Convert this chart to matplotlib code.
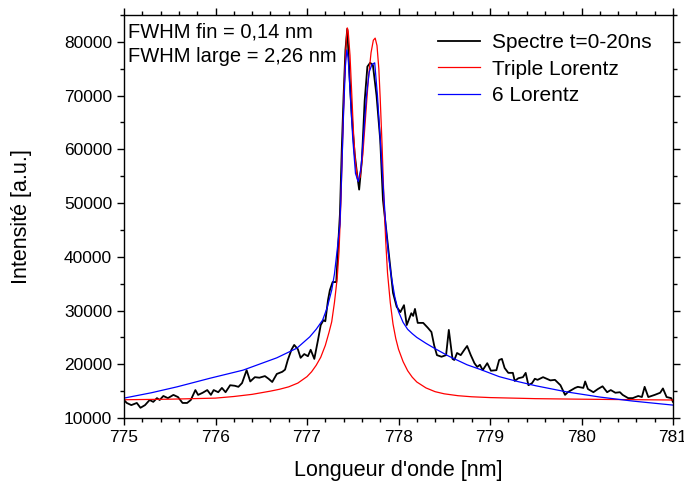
import numpy as np
import matplotlib
matplotlib.use("Agg")
import matplotlib.pyplot as plt
from matplotlib.ticker import MultipleLocator

plt.rcParams['font.family'] = ['Liberation Sans', 'DejaVu Sans']

spec_x = [775.00, 775.03, 775.08, 775.14, 775.18, 775.23, 775.28, 775.32, 775.36, 775.39,
          775.43, 775.48, 775.54, 775.59, 775.64, 775.69, 775.73, 775.78, 775.81, 775.86,
          775.91, 775.95, 775.98, 776.03, 776.07, 776.11, 776.16, 776.21, 776.25, 776.29,
          776.34, 776.38, 776.43, 776.48, 776.54, 776.58, 776.62, 776.67, 776.73, 776.76,
          776.79, 776.83, 776.86, 776.90, 776.93, 776.97, 777.01, 777.04, 777.08, 777.12,
          777.15, 777.18, 777.20, 777.23, 777.25, 777.28, 777.32, 777.34, 777.36, 777.38,
          777.40, 777.42, 777.44, 777.45, 777.47, 777.49, 777.52, 777.55, 777.57, 777.60,
          777.63, 777.66, 777.69, 777.72, 777.76, 777.80, 777.83, 777.87, 777.91, 777.94,
          777.98, 778.02, 778.06, 778.09, 778.14, 778.16, 778.18, 778.21, 778.27, 778.32,
          778.36, 778.39, 778.42, 778.47, 778.52, 778.55, 778.59, 778.61, 778.64, 778.68,
          778.72, 778.75, 778.79, 778.83, 778.86, 778.89, 778.92, 778.97, 779.01, 779.07,
          779.10, 779.13, 779.16, 779.20, 779.25, 779.27, 779.31, 779.36, 779.39, 779.42,
          779.46, 779.49, 779.52, 779.58, 779.66, 779.71, 779.77, 779.82, 779.85, 779.93,
          779.96, 780.02, 780.04, 780.07, 780.13, 780.18, 780.23, 780.28, 780.32, 780.37,
          780.42, 780.45, 780.51, 780.56, 780.62, 780.66, 780.69, 780.73, 780.80, 780.86,
          780.89, 780.93, 780.98, 781.00]
spec_y = [13350, 12800, 12400, 12800, 11900, 12400, 13350, 13000, 13700, 13350,
          14100, 13700, 14300, 13900, 12800, 12800, 13350, 15200, 14300, 14700,
          15200, 14300, 15200, 14800, 15600, 14800, 16100, 16000, 15800, 16500,
          18900, 16800, 17600, 17500, 17800, 17300, 16700, 18200, 18600, 19000,
          20800, 22700, 23600, 22800, 21200, 21900, 21500, 22700, 21000, 24500,
          27300, 28200, 28000, 32000, 33800, 35300, 35300, 42000, 48000, 60000,
          70000, 78500, 82400, 79000, 72000, 66000, 59300, 55000, 52500, 58000,
          69000, 75400, 76100, 75700, 70000, 61800, 50600, 44400, 38100, 33300,
          30700, 29700, 31000, 27300, 29500, 29000, 30300, 27700, 27700, 26800,
          26000, 23500, 21700, 21400, 21700, 26400, 21000, 20800, 22100, 21700,
          22700, 23400, 21700, 20200, 19500, 19900, 18900, 20200, 18800, 18900,
          20800, 21000, 19300, 18400, 18400, 16900, 17400, 17600, 18400, 16100,
          16500, 17300, 17100, 17600, 17000, 17100, 16100, 14300, 14800, 15600,
          15800, 15600, 16800, 15400, 14800, 15400, 15900, 14800, 15200, 14700,
          14800, 14300, 13700, 13700, 14100, 13900, 15800, 13900, 14300, 14700,
          15500, 13900, 13700, 13000]

# triple Lorentz fit
tri_x = [775.0, 775.5, 776.0, 776.2, 776.4, 776.6, 776.7, 776.8, 776.9, 777.0,
         777.05, 777.10, 777.15, 777.20, 777.24, 777.27, 777.30, 777.33, 777.35, 777.37,
         777.39, 777.41, 777.43, 777.44, 777.45, 777.47, 777.49, 777.51, 777.53, 777.555,
         777.58, 777.61, 777.64, 777.67, 777.70, 777.725, 777.745, 777.765, 777.785, 777.80,
         777.82, 777.84, 777.86, 777.88, 777.91, 777.94, 777.97, 778.00, 778.05, 778.10,
         778.15, 778.20, 778.30, 778.40, 778.50, 778.65, 778.80, 779.0, 779.5, 780.0,
         780.5, 781.0]
tri_y = [13400, 13500, 13700, 14000, 14400, 15000, 15350, 15800, 16500, 17700,
         18600, 19800, 21300, 23500, 25900, 27900, 31500, 36000, 41000, 50000,
         62000, 73000, 80500, 82600, 82000, 77500, 70000, 62500, 57500, 54200,
         54800, 59000, 66000, 73000, 78000, 80300, 80700, 79300, 75000, 69500,
         61000, 51000, 43000, 37000, 31500, 27500, 24800, 22800, 20500, 18800,
         17600, 16700, 15600, 14900, 14500, 14150, 13950, 13800, 13600, 13500,
         13420, 13350]

# 6 Lorentz fit
six_x = [775.0, 775.3, 775.58, 775.94, 776.3, 776.67, 776.89, 777.03, 777.10, 777.17,
         777.22, 777.27, 777.30, 777.33, 777.36, 777.38, 777.40, 777.42, 777.435, 777.45,
         777.47, 777.50, 777.53, 777.56, 777.59, 777.62, 777.65, 777.68, 777.71, 777.74,
         777.77, 777.80, 777.83, 777.86, 777.89, 777.92, 777.96, 778.00, 778.05, 778.10,
         778.15, 778.20, 778.30, 778.40, 778.55, 778.75, 778.90, 779.10, 779.30, 779.50,
         779.84, 780.20, 780.56, 781.0]
six_y = [13700, 14700, 15800, 17400, 18900, 21200, 23000, 25100, 26500, 28200,
         30500, 33800, 36800, 41300, 46000, 56000, 67000, 75500, 78500, 77000,
         71000, 62000, 55500, 54000, 56500, 63000, 70000, 74400, 75800, 76100,
         70000, 62000, 54000, 46000, 40500, 36500, 32500, 29800, 27800, 26500,
         25700, 25000, 23900, 22900, 21500, 19900, 19000, 17700, 16800, 16000,
         14850, 13900, 13150, 12400]

fig = plt.figure(figsize=(6.84, 4.83), dpi=100)
ax = fig.add_axes([124/684, 1-418/483, 549/684, 403/483])

ax.plot(spec_x, spec_y, color='black', linewidth=1.3, label='Spectre t=0-20ns')
ax.plot(tri_x, tri_y, color='red', linewidth=0.9, label='Triple Lorentz')
ax.plot(six_x, six_y, color='blue', linewidth=0.9, label='6 Lorentz')

ax.set_xlim(775, 781)
ax.set_ylim(10000, 85000)
ax.xaxis.set_major_locator(MultipleLocator(1))
ax.xaxis.set_minor_locator(MultipleLocator(0.2))
ax.yaxis.set_major_locator(MultipleLocator(10000))
ax.yaxis.set_minor_locator(MultipleLocator(5000))
ax.set_yticks(np.arange(10000, 80001, 10000))
ax.tick_params(which='both', direction='out', top=True, right=True, labelsize=12.5, width=1)
ax.tick_params(which='major', length=5)
ax.tick_params(which='minor', length=3)
for s in ax.spines.values():
    s.set_linewidth(1)

ax.set_xlabel("Longueur d'onde [nm]", fontsize=15.5, labelpad=11)
ax.set_ylabel("Intensité [a.u.]", fontsize=15.5)
ax.yaxis.set_label_coords(-0.168, 0.5)

ax.text(0.007, 0.943, "FWHM fin = 0,14 nm", transform=ax.transAxes, fontsize=14.5, va='baseline')
ax.text(0.007, 0.883, "FWHM large = 2,26 nm", transform=ax.transAxes, fontsize=14.5, va='baseline')

ax.legend(loc='upper left', bbox_to_anchor=(438/684, 1-33/483), bbox_transform=fig.transFigure,
          frameon=False, fontsize=15, handlelength=2.0, handletextpad=0.58,
          labelspacing=0.37, borderaxespad=0, borderpad=0)

fig.savefig('out.png', dpi=100)
